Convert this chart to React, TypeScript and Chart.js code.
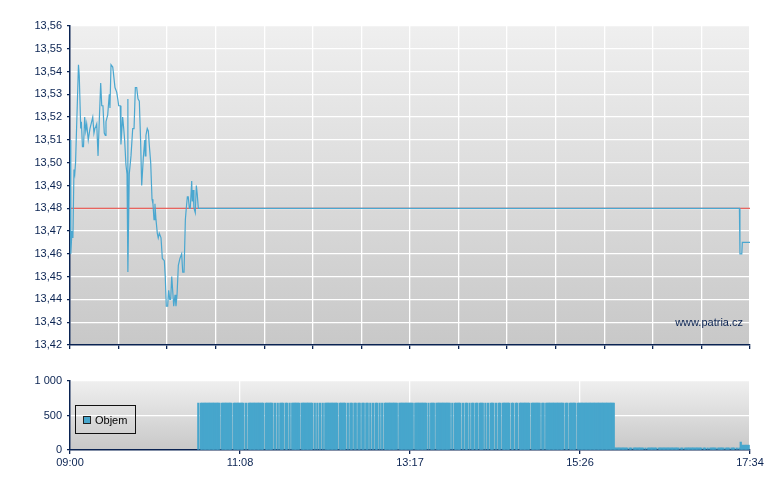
import React, { useEffect, useRef } from "react";
import { Chart, registerables } from "chart.js";

Chart.register(...registerables);

// ---- data (minutes since 09:00) ----
const priceTimes = [
  0, 0.6, 1.5, 2.2, 3.0, 3.6, 4.2, 6.4, 7.0, 8.1, 8.6, 9.4, 10.2, 11.1, 11.9, 12.6, 13.8, 15.1, 17.2, 18.1,
  18.8, 19.6, 20.2, 21.2, 22.1, 23.2, 24.0, 24.9, 25.9, 26.7, 27.2, 28.5, 29.7, 30.2, 31.0, 32.3, 32.7, 34.0,
  35.3, 36.1, 36.8, 38.0, 38.5, 39.8, 40.6, 41.3, 42.3, 43.1, 43.7, 43.8, 44.8, 46.1, 47.4, 48.4, 49.4, 50.4,
  51.4, 52.4, 53.4, 54.2, 55.4, 56.5, 56.9, 57.4, 58.4, 59.2, 59.9, 61.0, 62.0, 62.7, 63.5, 64.2, 65.0, 66.0,
  66.7, 67.5, 68.8, 69.8, 71.3, 72.0, 72.8, 73.8, 74.6, 75.4, 76.1, 76.9, 77.6, 78.4, 79.4, 80.1, 80.9, 81.9,
  83.1, 84.4, 85.2, 86.2, 87.2, 87.9, 88.7, 89.4, 90.2, 90.9, 92.0, 92.4, 93.0, 93.7, 94.7, 95.5, 96.2, 97.0,
  506.0, 506.4, 507.8, 508.2, 514,
];
const priceValues = [
  13.51, 13.46, 13.47, 13.467, 13.497, 13.495, 13.5, 13.543, 13.538, 13.515, 13.518, 13.507, 13.507, 13.52,
  13.514, 13.517, 13.51, 13.515, 13.52, 13.513, 13.515, 13.516, 13.517, 13.503, 13.518, 13.535, 13.525,
  13.525, 13.513, 13.512, 13.518, 13.521, 13.53, 13.524, 13.543, 13.542, 13.54, 13.533, 13.531, 13.528,
  13.525, 13.525, 13.508, 13.52, 13.515, 13.51, 13.499, 13.495, 13.528, 13.452, 13.495, 13.503, 13.515,
  13.515, 13.533, 13.533, 13.528, 13.527, 13.509, 13.49, 13.502, 13.51, 13.503, 13.512, 13.515, 13.514,
  13.508, 13.5, 13.484, 13.482, 13.475, 13.482, 13.475, 13.469, 13.467, 13.469, 13.467, 13.458, 13.457,
  13.45, 13.437, 13.437, 13.444, 13.44, 13.44, 13.45, 13.444, 13.437, 13.442, 13.437, 13.442, 13.455,
  13.458, 13.46, 13.452, 13.452, 13.475, 13.48, 13.485, 13.485, 13.48, 13.48, 13.492, 13.483, 13.488,
  13.48, 13.478, 13.49, 13.486, 13.48, 13.48, 13.46, 13.46, 13.465, 13.465,
];
const referencePrice = 13.48;
const priceTicks = [13.42, 13.43, 13.44, 13.45, 13.46, 13.47, 13.48, 13.49, 13.5, 13.51, 13.52, 13.53, 13.54, 13.55, 13.56];
const sessionLength = 514;
const timeTickLabels = ["09:00", "11:08", "13:17", "15:26", "17:34"];
const volumeTicks = [0, 500, 1000];

const volumeMainLevel = 680;
const volumeLateLevel = 30;
const volumeMainStart = 97;
const volumeMainEnd = 411;
const volumeLateEnd = 506;
const volumeGaps = [
  98, 114, 123, 132, 134, 147, 154, 156, 158, 162, 165, 167, 174, 184, 186, 188, 190, 192, 203, 209, 211, 214,
  217, 220, 223, 226, 228, 230, 233, 235, 237, 248, 260, 270, 272, 276, 288, 290, 296, 298, 301, 303, 306, 309,
  313, 315, 317, 321, 323, 326, 333, 336, 339, 348, 356, 359, 374, 377, 383,
  422, 425, 434, 436, 444, 461, 464, 478, 481, 483, 489, 495, 499, 503, 505,
];
const closingMinutes = [507, 508, 509, 510, 511, 512, 513];
const closingVolumes = [115, 70, 70, 70, 70, 70, 70];

// ---- styling ----
const NAVY = "#0a2352";
const FONT = { family: "'Liberation Sans', Arial, sans-serif", size: 11 };
const LINE_BLUE = "#4aa7d0";
const BAR_BLUE = "#47a6cc";

const bgPlugin = {
  id: "bgGradient",
  beforeDraw(chart: any) {
    const { ctx, chartArea } = chart;
    if (!chartArea) return;
    const g = ctx.createLinearGradient(0, chartArea.top, 0, chartArea.bottom);
    g.addColorStop(0, "#efefef");
    g.addColorStop(1, "#c8c8c8");
    ctx.save();
    ctx.fillStyle = g;
    ctx.fillRect(chartArea.left, chartArea.top, chartArea.right - chartArea.left, chartArea.bottom - chartArea.top);
    ctx.restore();
  },
};

const watermarkPlugin = {
  id: "watermark",
  afterDraw(chart: any) {
    const { ctx, chartArea } = chart;
    ctx.save();
    ctx.font = `11px ${FONT.family}`;
    ctx.fillStyle = NAVY;
    ctx.textAlign = "right";
    ctx.textBaseline = "middle";
    ctx.fillText("www.patria.cz", chartArea.right - 7, chartArea.bottom - 22);
    ctx.restore();
  },
};

const legendPlugin = {
  id: "objemLegend",
  afterDraw(chart: any) {
    const { ctx, chartArea } = chart;
    const x = chartArea.left + 5.5;
    const y = chartArea.top + 24.5;
    ctx.save();
    ctx.strokeStyle = "#111";
    ctx.lineWidth = 1;
    ctx.strokeRect(x, y, 60, 28);
    ctx.fillStyle = BAR_BLUE;
    ctx.fillRect(x + 8, y + 11, 7, 7);
    ctx.strokeStyle = "#222";
    ctx.strokeRect(x + 8, y + 11, 7, 7);
    ctx.font = `11px ${FONT.family}`;
    ctx.fillStyle = "#000";
    ctx.textAlign = "left";
    ctx.textBaseline = "middle";
    ctx.fillText("Objem", x + 19.5, y + 15);
    ctx.restore();
  },
};

function gridOpts(tickLength: number) {
  return { color: "#ffffff", lineWidth: 1.3, tickColor: NAVY, tickLength, drawTicks: true };
}

export default function App() {
  const topRef = useRef<HTMLCanvasElement>(null);
  const botRef = useRef<HTMLCanvasElement>(null);

  useEffect(() => {
    const pricePoints = priceTimes.map((t, i) => ({ x: t, y: priceValues[i] }));
    const refPoints = [
      { x: 0, y: referencePrice },
      { x: sessionLength, y: referencePrice },
    ];

    const top = new Chart(topRef.current as HTMLCanvasElement, {
      type: "line",
      data: {
        datasets: [
          { data: pricePoints, borderColor: LINE_BLUE, borderWidth: 1.2, pointRadius: 0, order: 0, tension: 0 },
          { data: refPoints, borderColor: "#e23a32", borderWidth: 1, pointRadius: 0, order: 1 },
        ],
      },
      options: {
        animation: false,
        responsive: false,
        layout: { padding: { top: 26, right: 30, left: 0, bottom: 0 } },
        plugins: { legend: { display: false }, tooltip: { enabled: false } },
        scales: {
          x: {
            type: "linear",
            min: 0,
            max: sessionLength,
            afterBuildTicks: (s: any) => {
              s.ticks = Array.from({ length: 15 }, (_, i) => ({ value: (i * sessionLength) / 14 }));
            },
            ticks: { display: false },
            grid: gridOpts(4),
            border: { color: NAVY, width: 1.5 },
            afterFit: (s: any) => {
              s.height = 15;
            },
          },
          y: {
            min: priceTicks[0],
            max: priceTicks[priceTicks.length - 1],
            afterBuildTicks: (s: any) => {
              s.ticks = priceTicks.map((v) => ({ value: v }));
            },
            ticks: {
              color: NAVY,
              font: FONT,
              padding: 5,
              callback: (v: any) => Number(v).toFixed(2).replace(".", ","),
            },
            grid: gridOpts(3),
            border: { color: NAVY, width: 1.5 },
            afterFit: (s: any) => {
              s.width = 70;
            },
          },
        },
      } as any,
      plugins: [bgPlugin, watermarkPlugin],
    });

    const volumePoints: { x: number; y: number }[] = [];
    for (let m = volumeMainStart; m <= volumeLateEnd; m++) {
      if (volumeGaps.includes(m)) continue;
      volumePoints.push({ x: m, y: m <= volumeMainEnd ? volumeMainLevel : volumeLateLevel });
    }
    closingMinutes.forEach((m, i) => volumePoints.push({ x: m, y: closingVolumes[i] }));

    const bot = new Chart(botRef.current as HTMLCanvasElement, {
      type: "bar",
      data: {
        datasets: [
          {
            label: "Objem",
            data: volumePoints,
            backgroundColor: BAR_BLUE,
            borderWidth: 0,
            barThickness: 1.6,
          },
        ],
      },
      options: {
        animation: false,
        responsive: false,
        layout: { padding: { top: 16, right: 30, left: 0, bottom: 0 } },
        plugins: { legend: { display: false }, tooltip: { enabled: false } },
        scales: {
          x: {
            type: "linear",
            min: 0,
            max: sessionLength,
            offset: false,
            afterBuildTicks: (s: any) => {
              s.ticks = timeTickLabels.map((_, i) => ({ value: (i * sessionLength) / (timeTickLabels.length - 1) }));
            },
            ticks: {
              color: NAVY,
              font: FONT,
              padding: 2,
              autoSkip: false,
              maxRotation: 0,
              callback: (_v: any, i: number) => timeTickLabels[i],
            },
            grid: { ...gridOpts(4), offset: false },
            border: { color: NAVY, width: 1.5 },
            afterFit: (s: any) => {
              s.height = 35;
            },
          },
          y: {
            min: 0,
            max: volumeTicks[volumeTicks.length - 1],
            afterBuildTicks: (s: any) => {
              s.ticks = volumeTicks.map((v) => ({ value: v }));
            },
            ticks: {
              color: NAVY,
              font: FONT,
              padding: 5,
              callback: (v: any) => String(v).replace(/\B(?=(\d{3})+(?!\d))/g, " "),
            },
            grid: gridOpts(3),
            border: { color: NAVY, width: 1.5 },
            afterFit: (s: any) => {
              s.width = 70;
            },
          },
        },
      } as any,
      plugins: [bgPlugin, legendPlugin],
    });

    return () => {
      top.destroy();
      bot.destroy();
    };
  }, []);

  return (
    <div style={{ position: "absolute", left: 0, top: 0, width: 780, height: 490, background: "#fff" }}>
      <canvas ref={topRef} width={780} height={360} style={{ position: "absolute", left: 0, top: 0 }} />
      <canvas ref={botRef} width={780} height={120} style={{ position: "absolute", left: 0, top: 365 }} />
    </div>
  );
}
